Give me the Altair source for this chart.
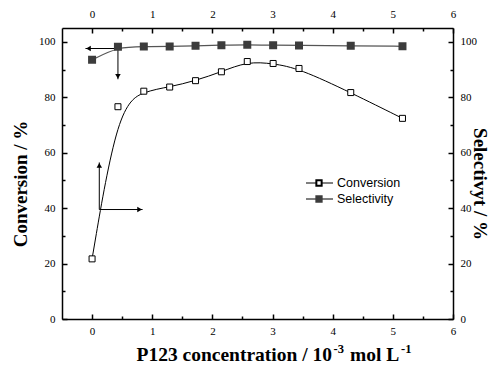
import altair as alt
import pandas as pd

# ---- data ----
conc = [0, 0.43, 0.86, 1.29, 1.72, 2.15, 2.58, 3.01, 3.44, 4.30, 5.16]
conversion = [21.7, 76.6, 82.2, 83.7, 86.0, 89.2, 92.9, 92.2, 90.4, 81.7, 72.4]
selectivity = [93.5, 98.2, 98.3, 98.3, 98.6, 98.8, 99.0, 98.8, 98.7, 98.6, 98.4]

x_ticks = [0, 1, 2, 3, 4, 5, 6]
x_minor = [0.5, 1.5, 2.5, 3.5, 4.5, 5.5]
y_ticks = [0, 20, 40, 60, 80, 100]
y_minor = [10, 30, 50, 70, 90]

# arrows: start x, start y, tip x, tip y
arrow_x = [0.43, 0.43, 0.12, 0.12]
arrow_y = [97.6, 97.6, 39.5, 39.5]
arrow_tx = [-0.11, 0.43, 0.12, 0.84]
arrow_ty = [97.6, 86.5, 56.5, 39.5]
arrow_shape = ["triangle-left", "triangle-down", "triangle-up", "triangle-right"]

series_names = ["Conversion", "Selectivity"]
# x-axis title pieces: normal text and superscripts
x_title_parts = ["P123 concentration / 10", "-3", "mol L", "-1"]
y_title = "Conversion / %"
y2_title = "Selectivyt / %"

W, H = 391, 291
XD = [-0.5, 6]
YD = [0, 105]
SERIF = "Liberation Serif"
SANS = "Liberation Sans"
TFS = 19  # title font size

df = pd.DataFrame({"c": conc, "conv": conversion, "sel": selectivity})
arr = pd.DataFrame({"x": arrow_x, "y": arrow_y, "tx": arrow_tx, "ty": arrow_ty, "shape": arrow_shape})
one = pd.DataFrame({"x": [0], "y": [0]})

xs = alt.Scale(domain=XD, nice=False, zero=False)
ys = alt.Scale(domain=YD, nice=False, zero=False)

def X(field, **kw):
    return alt.X(field, scale=xs, axis=None, **kw)

def Y(field, **kw):
    return alt.Y(field, scale=ys, axis=None, **kw)

conv_line = alt.Chart(df).mark_line(interpolate="basis", color="black", strokeWidth=1).encode(
    x=X("c:Q"), y=Y("conv:Q"))
sel_line = alt.Chart(df).mark_line(interpolate="basis", color="#555555", strokeWidth=1.2).encode(
    x=X("c:Q"), y=Y("sel:Q"))
conv_pts = alt.Chart(df).mark_point(shape="square", size=36, filled=True, fill="white",
                                    stroke="black", strokeWidth=1, opacity=1).encode(
    x=X("c:Q"), y=Y("conv:Q"))
sel_pts = alt.Chart(df).mark_point(shape="square", size=36, filled=True, fill="#3c3c3c",
                                   stroke="#3c3c3c", opacity=1).encode(
    x=X("c:Q"), y=Y("sel:Q"))

arrow_lines = alt.Chart(arr).mark_rule(color="black", strokeWidth=1).encode(
    x=X("x:Q"), y=Y("y:Q"), x2="tx:Q", y2="ty:Q")

offsets = {"triangle-left": (3, 0), "triangle-down": (0, -3), "triangle-up": (0, 3), "triangle-right": (-3, 0)}
heads = []
for shp in arrow_shape:
    dx, dy = offsets[shp]
    heads.append(
        alt.Chart(arr).transform_filter(alt.datum.shape == shp).mark_point(
            shape=shp, size=30, filled=True, color="black", opacity=1, xOffset=dx, yOffset=dy
        ).encode(x=X("tx:Q"), y=Y("ty:Q"))
    )

# legend (manual)
leg_rows = pd.DataFrame({"name": series_names, "ly": [155, 171],
                         "fill": ["white", "#3c3c3c"], "stroke": ["black", "#3c3c3c"]})
leg_line = alt.Chart(leg_rows).mark_rule(color="black", strokeWidth=1).encode(
    x=alt.value(244), x2=alt.value(271), y=alt.Y("ly:Q", scale=None))
leg_pts = alt.Chart(leg_rows).mark_point(shape="square", size=28, filled=True, opacity=1).encode(
    x=alt.value(257), y=alt.Y("ly:Q", scale=None),
    fill=alt.Fill("fill:N", scale=None), stroke=alt.Stroke("stroke:N", scale=None))
leg_txt = alt.Chart(leg_rows).mark_text(align="left", baseline="middle", font=SANS, fontSize=12.5,
                                        color="black").encode(
    x=alt.value(275), y=alt.Y("ly:Q", scale=None), text="name:N")

# x title built from pieces (superscripts smaller and raised)
xt = pd.DataFrame({"t": x_title_parts,
                   "px": [270, 271.5, 288, 339],
                   "py": [333, 325, 333, 325],
                   "fs": [19.5, 12.5, 19.5, 12.5],
                   "al": ["right", "left", "left", "left"]})
title_x_parts = []
for i in range(len(x_title_parts)):
    r = xt.iloc[[i]]
    title_x_parts.append(
        alt.Chart(r).mark_text(font=SERIF, fontSize=float(r["fs"].iloc[0]), fontWeight="bold",
                               align=r["al"].iloc[0], baseline="alphabetic", color="black").encode(
            x=alt.X("px:Q", scale=None), y=alt.Y("py:Q", scale=None), text="t:N")
    )

titles = pd.DataFrame({"t": [y_title, y2_title], "tx": [-41, 418], "ty": [156, 156]})
title_y = alt.Chart(titles.iloc[[0]]).mark_text(font=SERIF, fontSize=TFS, fontWeight="bold",
                                                align="center", baseline="middle", angle=270, color="black").encode(
    x=alt.X("tx:Q", scale=None), y=alt.Y("ty:Q", scale=None), text="t:N")
title_y2 = alt.Chart(titles.iloc[[1]]).mark_text(font=SERIF, fontSize=TFS, fontWeight="bold",
                                                 align="center", baseline="middle", angle=90, color="black").encode(
    x=alt.X("tx:Q", scale=None), y=alt.Y("ty:Q", scale=None), text="t:N")

data_layer = alt.layer(conv_line, sel_line, arrow_lines, *heads, conv_pts, sel_pts,
                       leg_line, leg_pts, leg_txt, *title_x_parts, title_y, title_y2)

common = dict(grid=False, title=None, labelFont=SERIF, labelFontSize=11, labelColor="black",
              domainColor="black", domainWidth=1.5, tickColor="black", tickWidth=1.5,
              labelFlush=False, labelOverlap=False)

def axis_layer(xaxis, yaxis):
    return alt.Chart(one).mark_point(opacity=0).encode(
        x=alt.X("x:Q", scale=alt.Scale(domain=XD, nice=False, zero=False), axis=xaxis),
        y=alt.Y("y:Q", scale=alt.Scale(domain=YD, nice=False, zero=False), axis=yaxis))

lab_b_l = axis_layer(
    alt.Axis(orient="bottom", values=x_ticks, ticks=False, labelPadding=6, format="d", **common),
    alt.Axis(orient="left", values=y_ticks, ticks=False, labelPadding=7, format="d", **common))
lab_t_r = axis_layer(
    alt.Axis(orient="top", values=x_ticks, ticks=False, labelPadding=9, format="d", **common),
    alt.Axis(orient="right", values=y_ticks, ticks=False, labelPadding=7, format="d", **common))
tick_common = dict(common, domain=False, labels=False)
maj1 = axis_layer(
    alt.Axis(orient="top", offset=-H, values=x_ticks, tickSize=5, **tick_common),
    alt.Axis(orient="right", offset=-W, values=y_ticks, tickSize=5, **tick_common))
maj2 = axis_layer(
    alt.Axis(orient="bottom", offset=-H, values=x_ticks, tickSize=5, **tick_common),
    alt.Axis(orient="left", offset=-W, values=y_ticks, tickSize=5, **tick_common))
min1 = axis_layer(
    alt.Axis(orient="top", offset=-H, values=x_minor, tickSize=3, **tick_common),
    alt.Axis(orient="right", offset=-W, values=y_minor, tickSize=3, **tick_common))
min2 = axis_layer(
    alt.Axis(orient="bottom", offset=-H, values=x_minor, tickSize=3, **tick_common),
    alt.Axis(orient="left", offset=-W, values=y_minor, tickSize=3, **tick_common))

chart = alt.layer(data_layer, lab_b_l, lab_t_r, maj1, maj2, min1, min2).resolve_scale(
    x="independent", y="independent"
).properties(
    width=W, height=H,
    autosize=alt.AutoSizeParams(type="none"),
    padding={"left": 54, "top": 20, "right": 38, "bottom": 45},
    background="white",
).configure_view(stroke=None)

chart.save("out.html", embed_options={"renderer": "svg", "actions": False})
